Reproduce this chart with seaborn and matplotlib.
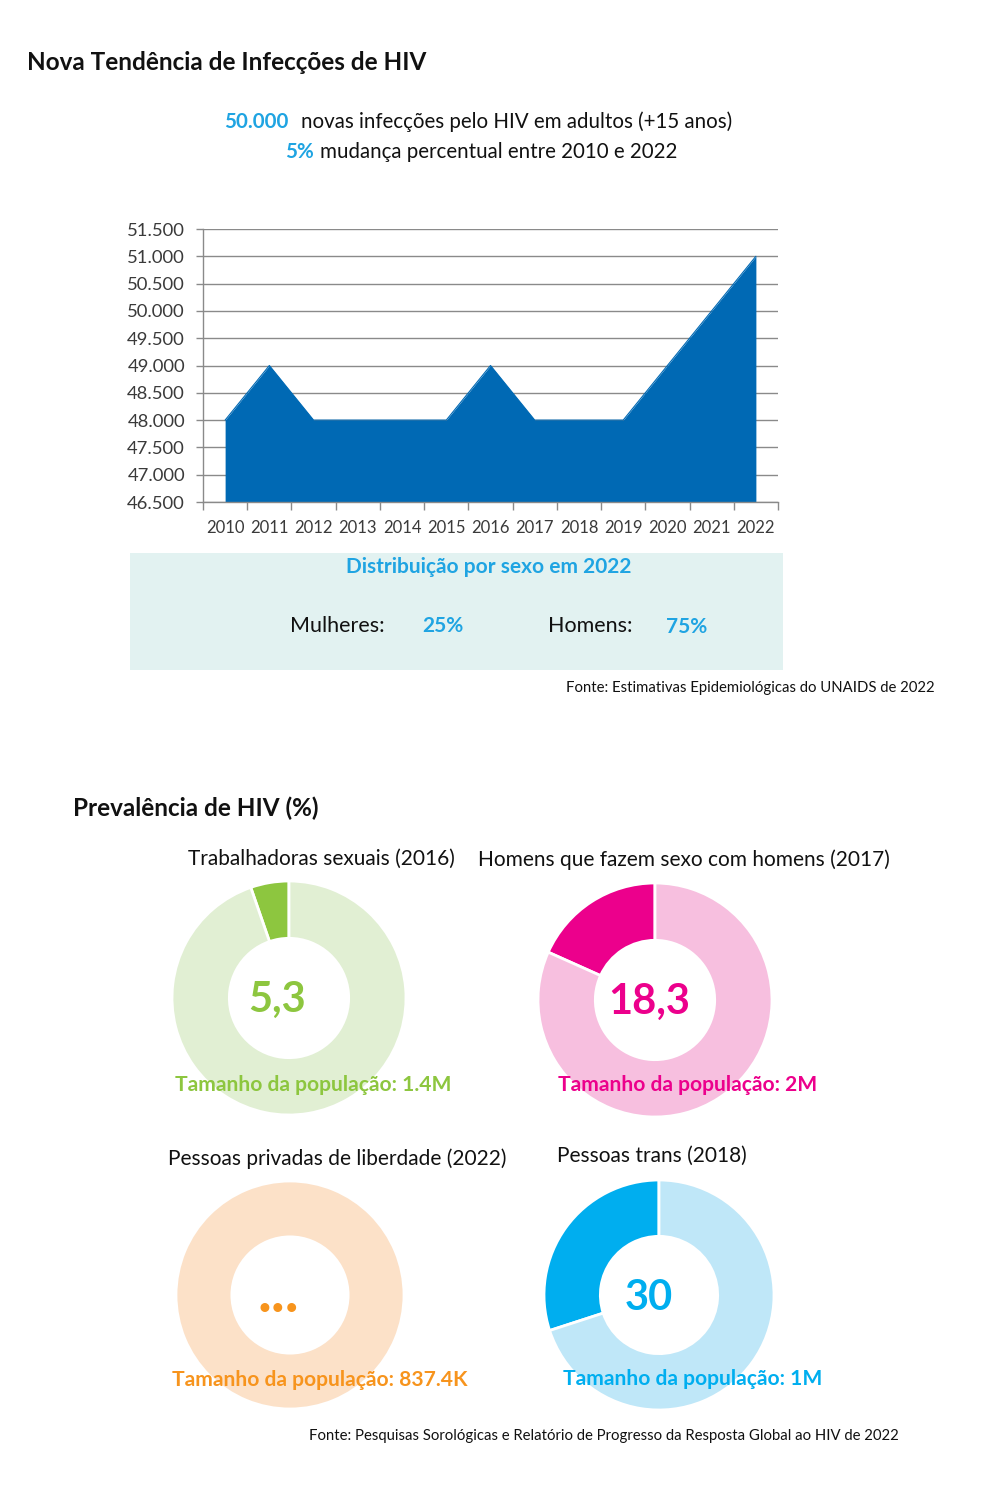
import numpy as np
import pandas as pd
import matplotlib
matplotlib.use('Agg')
import matplotlib.pyplot as plt
import seaborn as sns

sns.set_theme(style='white')
plt.rcParams['font.family'] = ['Lato', 'DejaVu Sans']

W, H = 984, 1495

# data - new infections trend
years = [2010, 2011, 2012, 2013, 2014, 2015, 2016, 2017, 2018, 2019, 2020, 2021, 2022]
infections = [48000, 49000, 48000, 48000, 48000, 48000, 49000, 48000, 48000, 48000, 49000, 50000, 51000]
y_ticks = [46500, 47000, 47500, 48000, 48500, 49000, 49500, 50000, 50500, 51000, 51500]

# data - prevalence donuts
groups = ['Trabalhadoras sexuais (2016)', 'Homens que fazem sexo com homens (2017)',
          'Pessoas privadas de liberdade (2022)', 'Pessoas trans (2018)']
prevalence = [5.3, 18.3, None, 30]
prevalence_labels = ['5,3', '18,3', '...', '30']
pop_size = ['1.4M', '2M', '837.4K', '1M']
dark_colors = ['#8DC63F', '#EC008C', '#F7941D', '#00AEEF']
light_colors = ['#E1EFD3', '#F7BFDF', '#FCE1C8', '#BFE7F8']

BLUE_TXT = '#1FA4E2'
AREA = '#0069B4'


def fx(px):
    return px / W


def fy(py):
    return 1 - py / H


fig = plt.figure(figsize=(W / 100, H / 100), dpi=100)

# header texts
fig.text(fx(27), fy(62), 'Nova Tendência de Infecções de HIV', fontsize=17.5, fontweight='bold',
         color='#111111', va='center', ha='left')
fig.text(fx(288), fy(122), '50.000', fontsize=14.8, fontweight='bold', color=BLUE_TXT,
         va='center', ha='right')
fig.text(fx(301), fy(122), 'novas infecções pelo HIV em adultos (+15 anos)', fontsize=14.8,
         color='#111111', va='center', ha='left')
fig.text(fx(314), fy(152), '5%', fontsize=14.8, fontweight='bold', color=BLUE_TXT,
         va='center', ha='right')
fig.text(fx(320), fy(152), 'mudança percentual entre 2010 e 2022', fontsize=14.8,
         color='#111111', va='center', ha='left')

# area chart
left, right, top, bottom = 203, 778, 229, 502
ax = fig.add_axes([fx(left), fy(bottom), fx(right - left), (bottom - top) / H])
df = pd.DataFrame({'pos': np.arange(len(years)), 'infeccoes': infections})
ax.fill_between(df['pos'], df['infeccoes'], y_ticks[0], color=AREA, lw=0, zorder=2)
sns.lineplot(data=df, x='pos', y='infeccoes', ax=ax, color=AREA, lw=0.8, zorder=3)
ax.set_xlim(-0.5, len(years) - 0.5)
ax.set_ylim(y_ticks[0], y_ticks[-1])
ax.set_yticks(y_ticks)
ax.set_yticklabels([f'{v:,}'.replace(',', '.') for v in y_ticks])
ax.set_xticks(df['pos'])
ax.set_xticklabels([str(y) for y in years])
ax.set_xticks(np.arange(-0.5, len(years), 1), minor=True)
ax.set_axisbelow(True)
ax.yaxis.grid(True, color='#8a8a8a', lw=1)
ax.xaxis.grid(False)
ax.set_xlabel('')
ax.set_ylabel('')
for s in ['top', 'right']:
    ax.spines[s].set_visible(False)
for s in ['left', 'bottom']:
    ax.spines[s].set_color('#8a8a8a')
    ax.spines[s].set_linewidth(1)
ax.tick_params(axis='y', which='major', left=True, length=5, width=1, color='#8a8a8a',
               labelsize=13.3, labelcolor='#3a3a3a', pad=8)
ax.tick_params(axis='x', which='major', bottom=False, labelsize=12, labelcolor='#3a3a3a', pad=7)
ax.tick_params(axis='x', which='minor', bottom=True, length=6, width=1, color='#8a8a8a')

# sex distribution box
box = fig.add_axes([fx(130), fy(670), fx(783 - 130), (670 - 553) / H])
box.set_facecolor('#E2F2F1')
box.set_xticks([])
box.set_yticks([])
for s in box.spines.values():
    s.set_visible(False)
fig.text(fx(489), fy(567), 'Distribuição por sexo em 2022', fontsize=15, fontweight='bold',
         color=BLUE_TXT, ha='center', va='center')
fig.text(fx(290), fy(626), 'Mulheres:', fontsize=15.5, color='#111111', ha='left', va='center')
fig.text(fx(422), fy(626), '25%', fontsize=15, fontweight='bold', color=BLUE_TXT, ha='left', va='center')
fig.text(fx(548), fy(626), 'Homens:', fontsize=15.5, color='#111111', ha='left', va='center')
fig.text(fx(666), fy(627), '75%', fontsize=15, fontweight='bold', color=BLUE_TXT, ha='left', va='center')
fig.text(fx(935), fy(688), 'Fonte: Estimativas Epidemiológicas do UNAIDS de 2022', fontsize=10.7,
         color='#111111', ha='right', va='center')

# prevalence section
fig.text(fx(73), fy(808), 'Prevalência de HIV (%)', fontsize=17.5, fontweight='bold',
         color='#111111', ha='left', va='center')

# centre x, centre y, radius, title x, title y, value x, value y, value size, label x, label y
layout = [
    (289, 998, 117, 321, 859, 277, 1000, 30, 175, 1085),
    (655, 1000, 117, 684, 860, 649, 1002, 30, 558, 1085),
    (290, 1295, 114, 337, 1159, 278, 1296, 42, 172, 1380),
    (659, 1295, 115, 652, 1156, 649, 1298, 30, 563, 1379),
]

for i, (cx, cy, r, tx, ty, vx, vy, vs, lx, ly) in enumerate(layout):
    dax = fig.add_axes([fx(cx - r), fy(cy + r), 2 * r / W, 2 * r / H])
    val = prevalence[i] if prevalence[i] is not None else 0
    dax.pie([val, 100 - val], colors=[dark_colors[i], light_colors[i]], startangle=90,
            counterclock=True, radius=1,
            wedgeprops=dict(width=0.49, edgecolor='white', linewidth=2))
    dax.set_xlim(-1, 1)
    dax.set_ylim(-1, 1)
    dax.set_aspect('equal')
    dax.axis('off')
    fig.text(fx(tx), fy(ty), groups[i], fontsize=15, color='#111111', ha='center', va='center')
    fig.text(fx(vx), fy(vy), prevalence_labels[i], fontsize=vs, fontweight='bold',
             color=dark_colors[i], ha='center', va='center')
    fig.text(fx(lx), fy(ly), f'Tamanho da população: {pop_size[i]}', fontsize=15.1,
             fontweight='bold', color=dark_colors[i], ha='left', va='center')

fig.text(fx(899), fy(1436), 'Fonte: Pesquisas Sorológicas e Relatório de Progresso da Resposta Global ao HIV de 2022',
         fontsize=10.75, color='#111111', ha='right', va='center')

fig.savefig('out.png', dpi=100)
